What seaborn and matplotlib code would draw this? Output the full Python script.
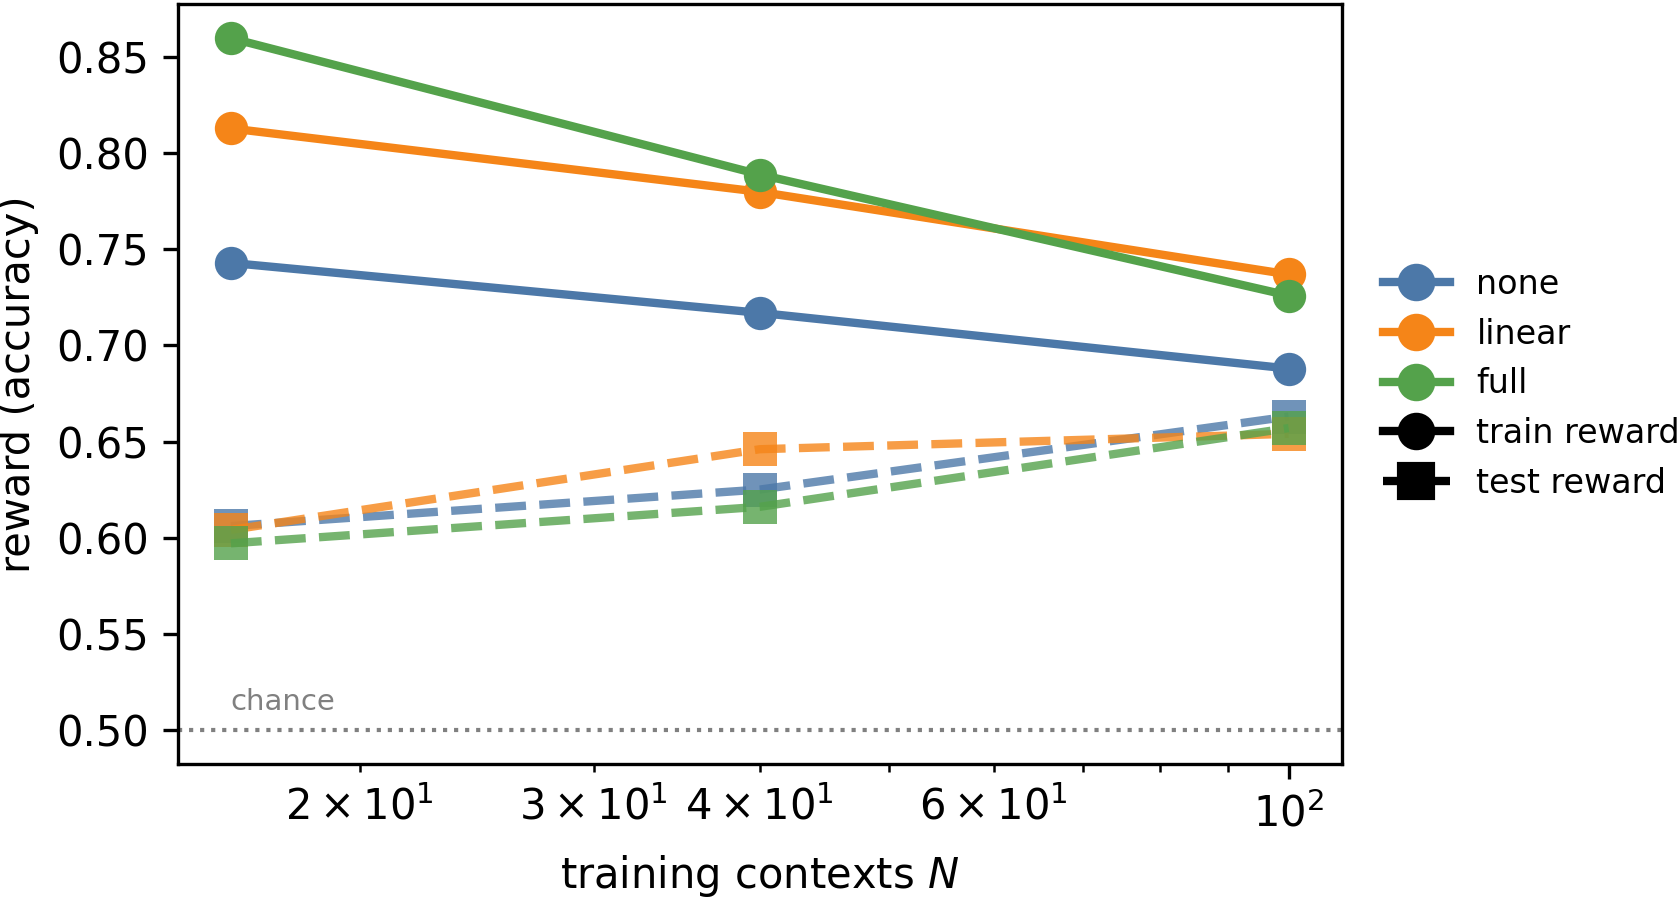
import pandas as pd
import matplotlib.pyplot as plt
import seaborn as sns
from matplotlib.lines import Line2D

# values
n_contexts = [16, 40, 100]
models = ['none', 'linear', 'full']
train_none = [0.743, 0.717, 0.688]
train_linear = [0.813, 0.780, 0.737]
train_full = [0.860, 0.789, 0.726]
test_none = [0.606, 0.625, 0.663]
test_linear = [0.604, 0.646, 0.654]
test_full = [0.597, 0.616, 0.657]

colors = {'none': '#4c78a8', 'linear': '#f58518', 'full': '#54a24b'}

train = {'none': train_none, 'linear': train_linear, 'full': train_full}
test = {'none': test_none, 'linear': test_linear, 'full': test_full}

rows = []
for m in models:
    for n, tr, te in zip(n_contexts, train[m], test[m]):
        rows.append({'N': n, 'model': m, 'split': 'train', 'reward': tr})
        rows.append({'N': n, 'model': m, 'split': 'test', 'reward': te})
df = pd.DataFrame(rows)

fig, ax = plt.subplots(figsize=(1679 / 300, 897 / 300), dpi=300)
fig.subplots_adjust(left=0.106, right=0.799, bottom=0.148, top=0.996)

sns.lineplot(data=df[df.split == 'train'], x='N', y='reward', hue='model',
             hue_order=models, palette=colors, marker='o', markersize=8,
             markeredgewidth=0, linewidth=2, legend=False, ax=ax)
sns.lineplot(data=df[df.split == 'test'], x='N', y='reward', hue='model',
             hue_order=models, palette=colors, marker='s', markersize=8,
             markeredgewidth=0, linewidth=2, linestyle='--', alpha=0.8,
             legend=False, ax=ax)

ax.axhline(0.5, color='gray', linestyle=':', linewidth=1)
ax.text(16, 0.507, 'chance', color='gray', fontsize=7, va='bottom')

ax.set_xscale('log')
ax.set_xlabel('training contexts $N$', fontsize=10)
ax.set_ylabel('reward (accuracy)', fontsize=10)
ax.tick_params(labelsize=10)

# legend: colours for the models, black for train / test
handles = [Line2D([], [], color=colors[m], marker='o', markersize=8, lw=2, label=m)
           for m in models]
handles.append(Line2D([], [], color='black', marker='o', markersize=8, lw=2,
                      label='train reward'))
handles.append(Line2D([], [], color='black', marker='s', markersize=8, lw=2,
                      linestyle='--', label='test reward'))
ax.legend(handles=handles, loc='center left', bbox_to_anchor=(1.01, 0.5),
          frameon=False, fontsize=8)

plt.savefig('out.png', dpi=300)
